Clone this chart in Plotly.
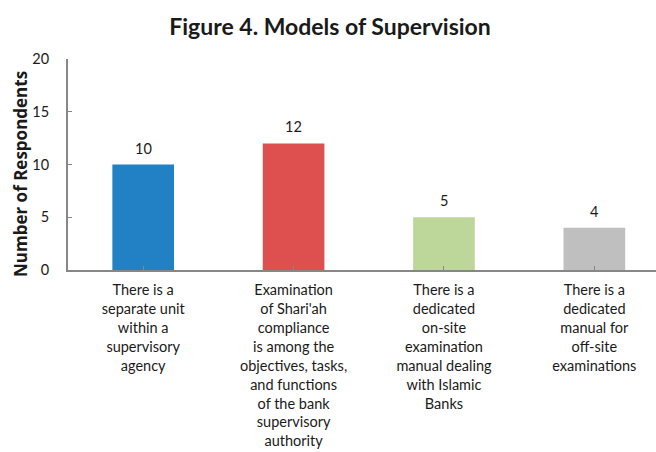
import plotly.graph_objects as go

# Survey responses: supervision models reported by agencies
categories = [
    "There is a<br>separate unit<br>within a<br>supervisory<br>agency",
    "Examination<br>of Shari'ah<br>compliance<br>is among the<br>objectives, tasks,<br>and functions<br>of the bank<br>supervisory<br>authority",
    "There is a<br>dedicated<br>on-site<br>examination<br>manual dealing<br>with Islamic<br>Banks",
    "There is a<br>dedicated<br>manual for<br>off-site<br>examinations",
]
respondents = [10, 12, 5, 4]
bar_colors = ["#2281C4", "#DE4F4F", "#BDD79A", "#BFBFBF"]
y_ticks = [0, 5, 10, 15, 20]

FONT = "Lato"
TEXT = "#1a1a1a"
AXIS = "#878787"

W, H = 656, 452
M_L, M_R, M_T, M_B = 68, 0, 59, 182
plot_w = W - M_L - M_R
plot_h = H - M_T - M_B

x_idx = list(range(len(categories)))

fig = go.Figure(
    go.Bar(
        x=x_idx,
        y=respondents,
        marker=dict(color=bar_colors, line=dict(width=0)),
        width=0.41,
        hoverinfo="skip",
    )
)

# value labels above each bar
for i, v in zip(x_idx, respondents):
    fig.add_annotation(
        x=i, y=v, text=str(v), showarrow=False,
        yanchor="bottom", yshift=6,
        font=dict(family=FONT, size=14.5, color=TEXT),
    )

# vertical axis title
fig.add_annotation(
    xref="paper", yref="paper",
    x=(20 - M_L) / plot_w, y=(H - M_B - 174) / plot_h,
    xanchor="center", yanchor="middle",
    text="<b>Number of Respondents</b>", textangle=-90, showarrow=False,
    font=dict(family="Open Sans", size=17, color=TEXT),
)

fig.update_layout(
    width=W,
    height=H,
    margin=dict(l=M_L, r=M_R, t=M_T, b=M_B, pad=0, autoexpand=False),
    paper_bgcolor="white",
    plot_bgcolor="white",
    showlegend=False,
    title=dict(
        text="<b>Figure 4. Models of Supervision</b>",
        x=330 / W, xanchor="center",
        y=1 - 27 / H, yanchor="middle",
        font=dict(family=FONT, size=23, color=TEXT),
    ),
    xaxis=dict(
        tickmode="array",
        tickvals=x_idx,
        ticktext=categories,
        range=[-0.5, 3.41],
        automargin=False,
        showline=True, linecolor=AXIS, linewidth=2,
        ticks="inside", ticklen=4, tickcolor=AXIS, tickwidth=1,
        showgrid=False, zeroline=False,
        tickfont=dict(family=FONT, size=14.5, color=TEXT),
        ticklabelstandoff=6,
    ),
    yaxis=dict(
        range=[0, 20],
        tickmode="array",
        tickvals=y_ticks,
        automargin=False,
        showline=True, linecolor=AXIS, linewidth=2,
        ticks="inside", ticklen=4, tickcolor=AXIS, tickwidth=1,
        showgrid=False, zeroline=False,
        tickfont=dict(family=FONT, size=14.5, color=TEXT),
        ticklabelstandoff=14,
    ),
)

# category boundaries marked with small upward ticks
fig.update_xaxes(tickson="boundaries")

fig.write_html("out.html")
